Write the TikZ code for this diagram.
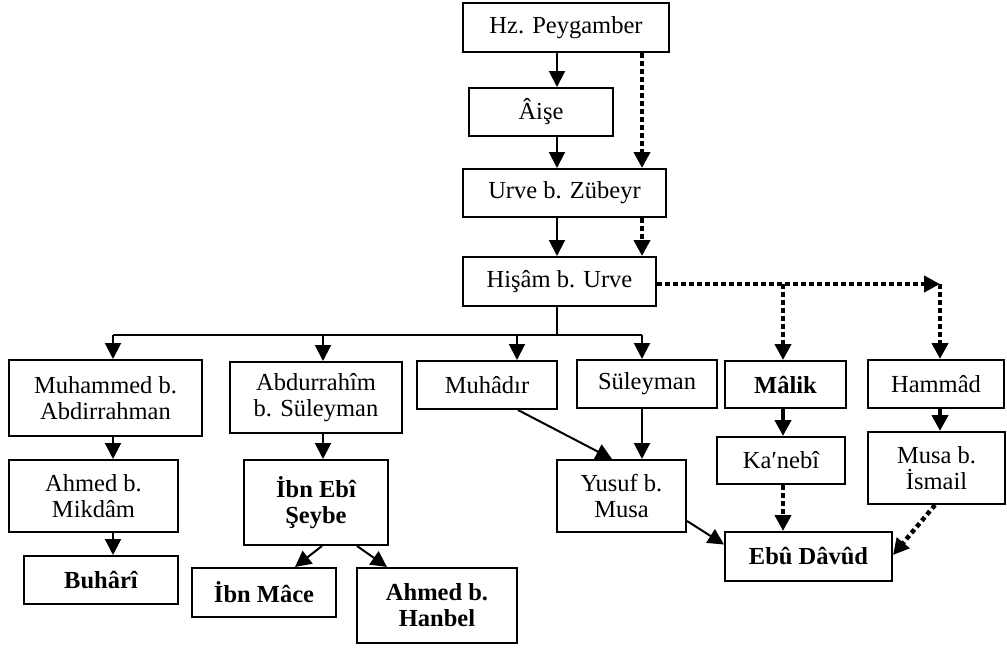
\documentclass[tikz,border=0pt]{standalone}
\usepackage{fontspec}
\setmainfont{Liberation Serif}
\usetikzlibrary{arrows.meta}
\begin{document}
\begin{tikzpicture}[x=1pt,y=-1pt,
  box/.style={draw,line width=2pt,rectangle,inner sep=0pt,align=center,
    font=\fontsize{24.5}{26}\selectfont},
  bbox/.style={box,font=\fontsize{24.5}{26}\selectfont\bfseries},
  arr/.style={-{Triangle[width=16pt,length=16pt]},line width=2pt},
  thk/.style={line width=4.5pt},
  dotline/.style={line width=4.5pt,dash pattern=on 4.5pt off 3.5pt}]
\useasboundingbox (0,0) rectangle (1007,648);

% chain from the Prophet down to Hisham
\node[box,minimum width=206pt,minimum height=49pt] (hz) at (566,27.5) {Hz. Peygamber};
\node[box,minimum width=144pt,minimum height=48pt] (aise) at (541,112) {Âişe};
\node[box,minimum width=203pt,minimum height=48pt] (urve) at (564.5,193) {Urve b. Zübeyr};
\node[box,minimum width=193pt,minimum height=49pt] (hisam) at (559.5,281.5) {Hişâm b. Urve};

% students of Hisham
\node[box,minimum width=193pt,minimum height=76pt] (muh) at (105.5,398) {Muhammed b.\\Abdirrahman};
\node[box,minimum width=172pt,minimum height=71pt] (abd) at (316,397.5) {Abdurrahîm\\b. Süleyman};
\node[box,minimum width=140pt,minimum height=48pt] (muhadir) at (487,385) {Muhâdır};
\node[box,minimum width=140pt,minimum height=48pt] (sul) at (647,384) {Süleyman};
\node[bbox,minimum width=121pt,minimum height=47pt] (malik) at (785.5,384.5) {Mâlik};
\node[box,minimum width=136pt,minimum height=48pt] (hammad) at (936,384) {Hammâd};

% next generation
\node[box,minimum width=169pt,minimum height=72pt] (ahmedm) at (93.5,496) {Ahmed b.\\Mikdâm};
\node[bbox,minimum width=144pt,minimum height=85pt] (ibnebi) at (316,502.5) {İbn Ebî\\Şeybe};
\node[box,minimum width=129pt,minimum height=72pt] (yusuf) at (621.5,496) {Yusuf b.\\Musa};
\node[box,minimum width=128pt,minimum height=47pt] (kanebi) at (781,460.5) {Ka′nebî};
\node[box,minimum width=137pt,minimum height=72pt] (musa) at (936.5,468) {Musa b.\\İsmail};

% collectors
\node[bbox,minimum width=154pt,minimum height=48pt] (buhari) at (101,580) {Buhârî};
\node[bbox,minimum width=144pt,minimum height=49pt] (ibnmace) at (264,592.5) {İbn Mâce};
\node[bbox,minimum width=160pt,minimum height=75pt] (hanbel) at (437,605.5) {Ahmed b.\\Hanbel};
\node[bbox,minimum width=167pt,minimum height=49pt] (ebu) at (808.5,556.5) {Ebû Dâvûd};

% columns and junctions
\coordinate (c1) at (557,0);
\coordinate (c2) at (642,0);
\coordinate (bus) at (557,335);
\coordinate (b1) at (113,335);
\coordinate (b2) at (323,335);
\coordinate (b3) at (517,335);
\coordinate (b4) at (642,335);
\coordinate (d1) at (783,284);
\coordinate (d2) at (940,284);

% upper chain
\draw[arr] (hz.south -| c1) -- (aise.north -| c1);
\draw[arr] (aise.south -| c1) -- (urve.north -| c1);
\draw[arr] (urve.south -| c1) -- (hisam.north -| c1);
\draw[arr,dotline] (hz.south -| c2) -- (urve.north -| c2);
\draw[arr,dotline] (urve.south -| c2) -- (hisam.north -| c2);

% branching bus under Hisham
\draw[line width=2pt] (hisam.south -| c1) -- (bus);
\draw[line width=2pt] (b1) -- (b4);
\draw[arr] (b1) -- (muh.north -| b1);
\draw[arr] (b2) -- (abd.north -| b2);
\draw[arr] (b3) -- (muhadir.north -| b3);
\draw[arr] (b4) -- (sul.north -| b4);

% dotted branch to Malik and Hammad
\draw[arr,dotline] (hisam.east |- d1) -- (d2);
\draw[arr,dotline] (d1) -- (malik.north -| d1);
\draw[arr,dotline] (d2) -- (hammad.north -| d2);

% left columns
\draw[arr] (muh.south -| b1) -- (ahmedm.north -| b1);
\draw[arr] (ahmedm.south -| b1) -- (buhari.north -| b1);
\draw[arr] (abd.south -| b2) -- (ibnebi.north -| b2);
\draw[arr] ([xshift=6pt]ibnebi.south) -- ([xshift=31pt]ibnmace.north);
\draw[arr] ([xshift=41pt]ibnebi.south) -- ([xshift=-50pt]hanbel.north);

% middle and right columns
\draw[arr] ([xshift=31pt]muhadir.south) -- ([xshift=-9.5pt]yusuf.north);
\draw[arr] (sul.south -| c2) -- (yusuf.north -| c2);
\draw[arr] ([yshift=12pt]yusuf.south east) -- ([yshift=12pt]ebu.west);
\draw[arr,thk] (malik.south -| d1) -- (kanebi.north -| d1);
\draw[arr,dotline] (kanebi.south -| d1) -- (ebu.north -| d1);
\draw[arr,thk] (hammad.south -| d2) -- (musa.north -| d2);
\draw[arr,dotline] ([xshift=-1.5pt]musa.south) -- ([yshift=1.5pt]ebu.east);
\end{tikzpicture}
\end{document}
